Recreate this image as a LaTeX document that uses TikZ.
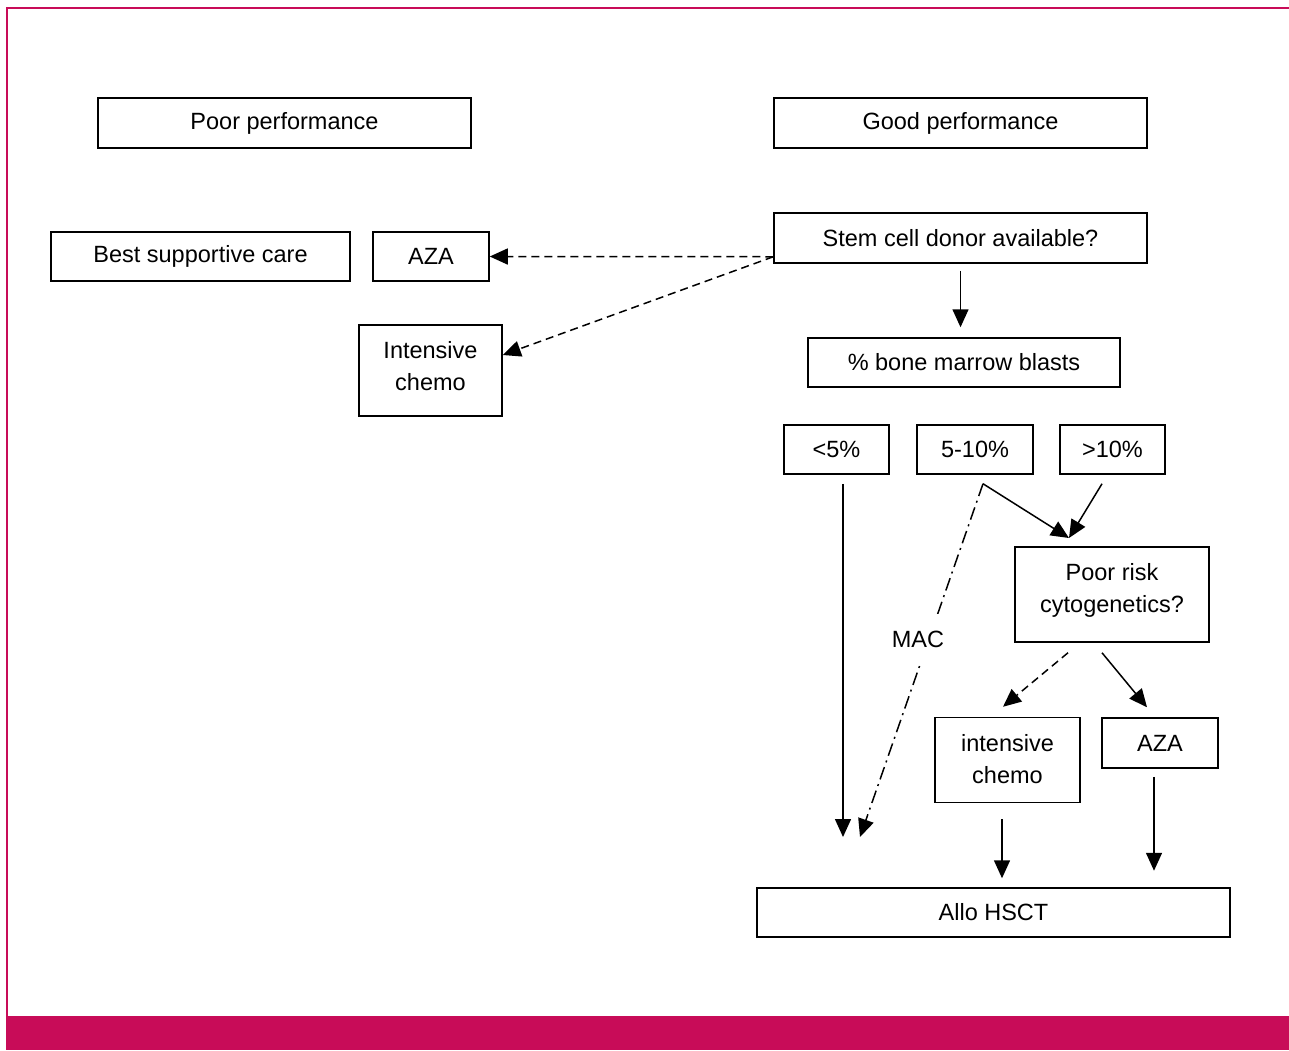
\documentclass[tikz,border=0pt]{standalone}
\usepackage{fontspec}
\setmainfont{Liberation Sans}
\usetikzlibrary{arrows.meta}
\definecolor{framered}{RGB}{200,12,88}
\tikzset{
	box/.style={draw, line width=1.5pt, inner sep=0pt, align=center, font=\fontsize{23.5}{32}\selectfont},
	arr/.style={line width=1.5pt, -{Triangle[length=18pt,width=16pt]}},
	darr/.style={arr, dash pattern=on 8pt off 5pt},
	ddarr/.style={arr, dash pattern=on 13pt off 5pt on 2pt off 5pt},
}
\begin{document}
\begin{tikzpicture}[x=1pt, y=-1pt]
		\useasboundingbox (0,0) rectangle (1289,1050);
		% frame
		\draw [framered, line width=2.5pt] (7,1016) -- (7,8) -- (1289,8);
		\fill [framered] (6,1016) rectangle (1289,1050);
		% boxes
		\node[box, minimum width=373pt, minimum height=50pt] (poor) at (284.5,123) {Poor performance};
		\node[box, minimum width=373pt, minimum height=50pt] (good) at (960.5,123) {Good performance};
		\node[box, minimum width=299pt, minimum height=49pt] (bsc) at (200.5,256.5) {Best supportive care};
		\node[box, minimum width=116pt, minimum height=49pt] (azaleft) at (431,256.5) {AZA};
		\node[box, minimum width=373pt, minimum height=50pt] (donor) at (960.5,238) {Stem cell donor available?};
		\node[box, minimum width=143pt, minimum height=91pt, text depth=10pt] (chemoleft) at (430.5,370.5) {Intensive\\chemo};
		\node[box, minimum width=312pt, minimum height=49pt] (blasts) at (964,362.5) {\% bone marrow blasts};
		\node[box, minimum width=105pt, minimum height=49pt] (low) at (836.5,449.5) {<5\%};
		\node[box, minimum width=116pt, minimum height=49pt] (mid) at (975,449.5) {5-10\%};
		\node[box, minimum width=105pt, minimum height=49pt] (high) at (1112.5,449.5) {>10\%};
		\node[box, minimum width=194pt, minimum height=95pt, text depth=13pt] (cyto) at (1112,594.5) {Poor risk\\cytogenetics?};
		\node[box, minimum width=145pt, minimum height=85pt, text depth=3pt] (chemoright) at (1007.5,760) {intensive\\chemo};
		\node[box, minimum width=116pt, minimum height=50pt] (azaright) at (1160,743) {AZA};
		\node[box, minimum width=473pt, minimum height=49pt] (allo) at (993.5,912.5) {Allo HSCT};
		% free ends
		\coordinate (cytoin) at (1069,538);
		\coordinate (lowend) at (843,837);
		\coordinate (macend) at (860,837);
		% connectors
		\draw [darr] ([yshift=7pt]donor.south west) -- (azaleft.east);
		\draw [darr] ([yshift=7pt]donor.south west) -- ([yshift=15.5pt]chemoleft.east);
		\draw [arr] ([yshift=-7pt]donor.south) -- ([yshift=10pt]donor.south |- blasts.north);
		\draw [arr] ([xshift=6.5pt, yshift=-9pt]low.south) -- (lowend);
		\draw [arr] ([xshift=8pt, yshift=-9pt]mid.south) -- (cytoin);
		\draw [arr] ([xshift=-10.5pt, yshift=-9pt]high.south) -- (cytoin);
		\draw [ddarr] ([xshift=8pt, yshift=-9pt]mid.south) -- (macend)
			node[pos=0.44, xshift=-11pt, fill=white, inner xsep=10pt, inner ysep=17pt, font=\fontsize{23.5}{32}\selectfont] (mac) {MAC};
		\draw [darr] ([xshift=-44pt, yshift=-10pt]cyto.south) -- ([xshift=-4.5pt, yshift=10pt]chemoright.north);
		\draw [arr] ([xshift=-10pt, yshift=-10pt]cyto.south) -- ([xshift=-13pt, yshift=10pt]azaright.north);
		\draw [arr] ([xshift=-5.5pt, yshift=-16pt]chemoright.south) -- ++(0,59);
		\draw [arr] ([xshift=-6pt, yshift=-8pt]azaright.south) -- ++(0,94);
	\end{tikzpicture}
\end{document}
